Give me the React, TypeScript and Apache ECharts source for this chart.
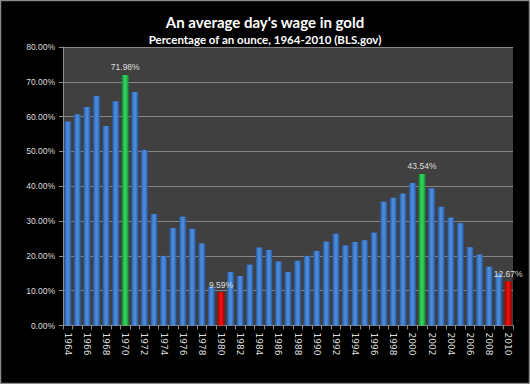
import React, { useEffect, useRef } from "react";
import * as echarts from "echarts";

const years: string[] = [];
for (let y = 1964; y <= 2010; y++) years.push(String(y));

const wagePct: number[] = [
  58.6, 60.7, 62.8, 65.9, 57.3, 64.4, 71.98, 67.1, 50.4, 32.0,
  20.0, 28.0, 31.3, 27.8, 23.6, 11.2, 9.59, 15.4, 14.2, 17.5,
  22.4, 21.7, 18.4, 15.4, 18.6, 20.0, 21.4, 24.1, 26.4, 23.0,
  24.0, 24.5, 26.7, 35.6, 36.7, 37.9, 40.9, 43.54, 39.4, 34.1,
  31.0, 29.4, 22.5, 20.4, 16.9, 15.0, 12.67,
];

const peakYears = ["1970", "2001"];
const troughYears = ["1980", "2010"];
const yTicks = { min: 0, max: 80, interval: 10 };

const grad = (edge: string, mid: string) =>
  new echarts.graphic.LinearGradient(0, 0, 1, 0, [
    { offset: 0, color: edge },
    { offset: 0.4, color: mid },
    { offset: 0.6, color: mid },
    { offset: 1, color: edge },
  ]);

export default function App() {
  const ref = useRef<HTMLDivElement>(null);
  useEffect(() => {
    if (!ref.current) return;
    const chart = echarts.init(ref.current, null, { renderer: "svg" });
    const data = wagePct.map((v, i) => {
      const yr = years[i];
      const isPeak = peakYears.includes(yr);
      const isLow = troughYears.includes(yr);
      const color = isPeak
        ? grad("#0f8a34", "#2fd05a")
        : isLow
        ? grad("#a00000", "#e81010")
        : grad("#2657a0", "#4a8ad8");
      return {
        value: v,
        itemStyle: { color },
        label: {
          show: isPeak || isLow,
          position: "top",
          distance: 3,
          color: "#dedede",
          fontSize: 8.5,
          fontFamily: "Liberation Sans",
          formatter: (p: any) => p.value.toFixed(2) + "%",
        },
      };
    });
    chart.setOption({
      animation: false,
      backgroundColor: "#000000",
      title: [
        {
          text: "An average day's wage in gold",
          left: "center",
          top: 9,
          textStyle: {
            color: "#ffffff",
            fontSize: 15,
            fontWeight: "bold",
            fontFamily: "Lato",
          },
        },
        {
          text: "Percentage of an ounce, 1964-2010 (BLS.gov)",
          left: "center",
          top: 28,
          textStyle: {
            color: "#ffffff",
            fontSize: 11.5,
            fontWeight: "bold",
            fontFamily: "Lato",
          },
        },
      ],
      graphic: [
        {
          type: "rect",
          shape: { x: 0.5, y: 0.5, width: 529, height: 383 },
          style: { fill: "none", stroke: "#8a8a8a", lineWidth: 1.5 },
          silent: true,
        },
      ],
      grid: {
        left: 63,
        right: 17,
        top: 47,
        bottom: 58.5,
        show: true,
        backgroundColor: "#404040",
        borderWidth: 0,
      },
      xAxis: {
        type: "category",
        data: years,
        axisLine: { show: true, lineStyle: { color: "#8c8c8c", width: 1 } },
        axisTick: {
          show: true,
          interval: 0,
          length: 4,
          lineStyle: { color: "#8c8c8c" },
        },
        axisLabel: {
          interval: 1,
          rotate: -90,
          margin: 7,
          color: "#dedede",
          fontSize: 9,
          fontFamily: "DejaVu Sans",
        },
      },
      yAxis: {
        type: "value",
        min: yTicks.min,
        max: yTicks.max,
        interval: yTicks.interval,
        axisLine: { show: true, lineStyle: { color: "#8c8c8c", width: 1 } },
        axisTick: { show: true, length: 4, lineStyle: { color: "#8c8c8c" } },
        splitLine: { show: true, lineStyle: { color: "#858585", width: 1 } },
        axisLabel: {
          color: "#dedede",
          fontSize: 8.5,
          margin: 8,
          fontFamily: "Liberation Sans",
          formatter: (v: number) => v.toFixed(2) + "%",
        },
      },
      series: [
        {
          type: "bar",
          data,
          barCategoryGap: "28%",
        },
      ],
    });
    return () => chart.dispose();
  }, []);
  return (
    <div style={{ position: "fixed", left: 0, top: 0, width: 530, height: 384 }}>
      <div ref={ref} style={{ width: 530, height: 384 }} />
    </div>
  );
}
